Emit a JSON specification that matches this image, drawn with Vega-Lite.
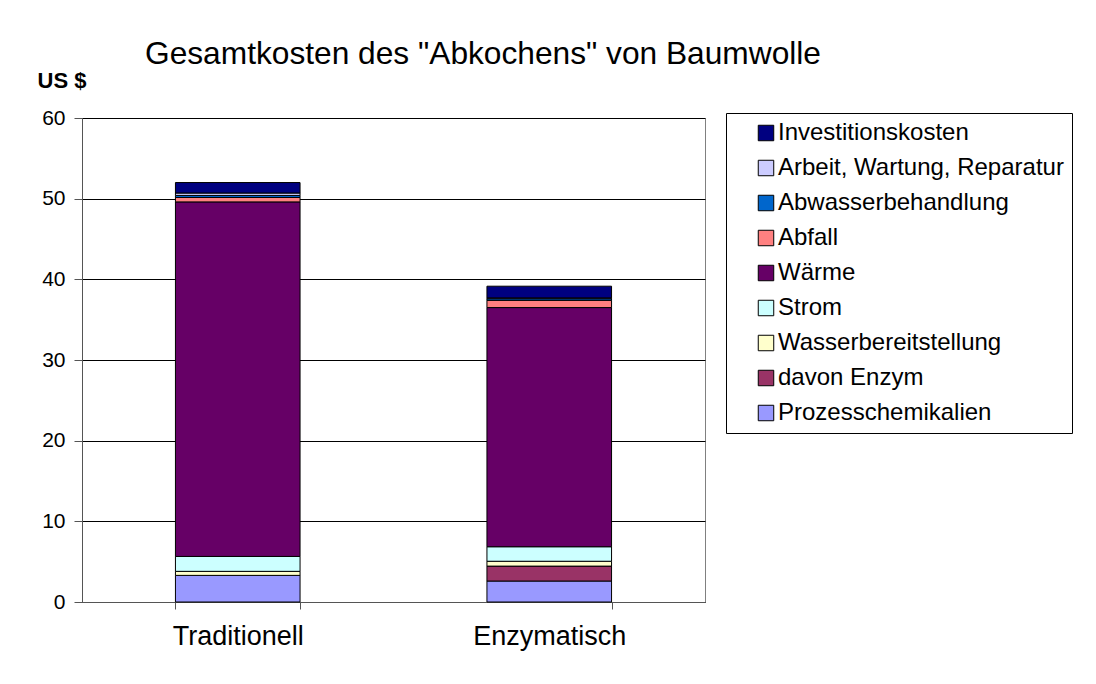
{
  "$schema": "https://vega.github.io/schema/vega-lite/v6.json",
  "width": 623,
  "height": 484,
  "autosize": "none",
  "padding": {"left": 82, "top": 118, "right": 391, "bottom": 82},
  "background": "white",
  "title": {
    "text": "Gesamtkosten des \"Abkochens\" von Baumwolle",
    "anchor": "start",
    "dx": 108,
    "offset": -2,
    "fontSize": 31.7,
    "fontWeight": "normal",
    "font": "Liberation Sans",
    "color": "black"
  },
  "data": {
    "values": [
      {"Verfahren": "Traditionell", "Kategorie": "Prozesschemikalien", "rank": 1, "Wert": 3.3},
      {"Verfahren": "Traditionell", "Kategorie": "davon Enzym", "rank": 2, "Wert": 0},
      {"Verfahren": "Traditionell", "Kategorie": "Wasserbereitstellung", "rank": 3, "Wert": 0.5},
      {"Verfahren": "Traditionell", "Kategorie": "Strom", "rank": 4, "Wert": 1.85},
      {"Verfahren": "Traditionell", "Kategorie": "Wärme", "rank": 5, "Wert": 43.95},
      {"Verfahren": "Traditionell", "Kategorie": "Abfall", "rank": 6, "Wert": 0.55},
      {"Verfahren": "Traditionell", "Kategorie": "Abwasserbehandlung", "rank": 7, "Wert": 0.25},
      {"Verfahren": "Traditionell", "Kategorie": "Arbeit, Wartung, Reparatur", "rank": 8, "Wert": 0.3},
      {"Verfahren": "Traditionell", "Kategorie": "Investitionskosten", "rank": 9, "Wert": 1.3},
      {"Verfahren": "Enzymatisch", "Kategorie": "Prozesschemikalien", "rank": 1, "Wert": 2.6},
      {"Verfahren": "Enzymatisch", "Kategorie": "davon Enzym", "rank": 2, "Wert": 1.85},
      {"Verfahren": "Enzymatisch", "Kategorie": "Wasserbereitstellung", "rank": 3, "Wert": 0.6},
      {"Verfahren": "Enzymatisch", "Kategorie": "Strom", "rank": 4, "Wert": 1.8},
      {"Verfahren": "Enzymatisch", "Kategorie": "Wärme", "rank": 5, "Wert": 29.65},
      {"Verfahren": "Enzymatisch", "Kategorie": "Abfall", "rank": 6, "Wert": 0.9},
      {"Verfahren": "Enzymatisch", "Kategorie": "Abwasserbehandlung", "rank": 7, "Wert": 0.2},
      {"Verfahren": "Enzymatisch", "Kategorie": "Arbeit, Wartung, Reparatur", "rank": 8, "Wert": 0.1},
      {"Verfahren": "Enzymatisch", "Kategorie": "Investitionskosten", "rank": 9, "Wert": 1.45}
    ]
  },
  "mark": {"type": "bar", "stroke": "black", "strokeWidth": 1},
  "encoding": {
    "x": {
      "field": "Verfahren",
      "type": "nominal",
      "sort": ["Traditionell", "Enzymatisch"],
      "scale": {"paddingInner": 0.6, "paddingOuter": 0.3},
      "axis": {
        "title": null,
        "labelAngle": 0,
        "labelFontSize": 27,
        "labelFont": "Liberation Sans",
        "labelColor": "black",
        "labelPadding": 14,
        "tickBand": "extent",
        "tickSize": 7,
        "tickColor": "#555555",
        "domainColor": "#555555"
      }
    },
    "y": {
      "field": "Wert",
      "type": "quantitative",
      "stack": "zero",
      "scale": {"domain": [0, 60], "nice": false},
      "axis": {
        "values": [0, 10, 20, 30, 40, 50, 60],
        "title": "US $",
        "titleAngle": 0,
        "titleAlign": "left",
        "titleBaseline": "middle",
        "titleX": -45,
        "titleY": -38,
        "titleFontSize": 22,
        "titleFontWeight": "bold",
        "titleFont": "Liberation Sans",
        "titleColor": "black",
        "labelFontSize": 21,
        "labelFont": "Liberation Sans",
        "labelColor": "black",
        "labelPadding": 9,
        "tickSize": 8,
        "tickColor": "#555555",
        "domainColor": "#555555",
        "grid": true,
        "gridColor": "black",
        "gridWidth": 1
      }
    },
    "color": {
      "field": "Kategorie",
      "type": "nominal",
      "scale": {
        "domain": ["Investitionskosten", "Arbeit, Wartung, Reparatur", "Abwasserbehandlung", "Abfall", "Wärme", "Strom", "Wasserbereitstellung", "davon Enzym", "Prozesschemikalien"],
        "range": ["#000080", "#CCCCFF", "#0066CC", "#FF8080", "#660066", "#CCFFFF", "#FFFFCC", "#993366", "#9999FF"]
      },
      "legend": {
        "title": null,
        "orient": "none",
        "legendX": 644,
        "legendY": -5,
        "strokeColor": "black",
        "padding": 8,
        "symbolOffset": 20,
        "symbolType": "square",
        "symbolSize": 240,
        "symbolStrokeColor": "black",
        "symbolStrokeWidth": 1,
        "symbolOpacity": 1,
        "labelFontSize": 24,
        "labelFont": "Liberation Sans",
        "labelColor": "black",
        "labelLimit": 400,
        "labelOffset": 0,
        "labelExpr": "datum.label + '\u00a0\u00a0\u00a0'",
        "rowPadding": 11
      }
    },
    "order": {"field": "rank", "type": "quantitative", "sort": "ascending"}
  },
  "config": {
    "view": {"stroke": "#808080", "strokeWidth": 1}
  }
}
